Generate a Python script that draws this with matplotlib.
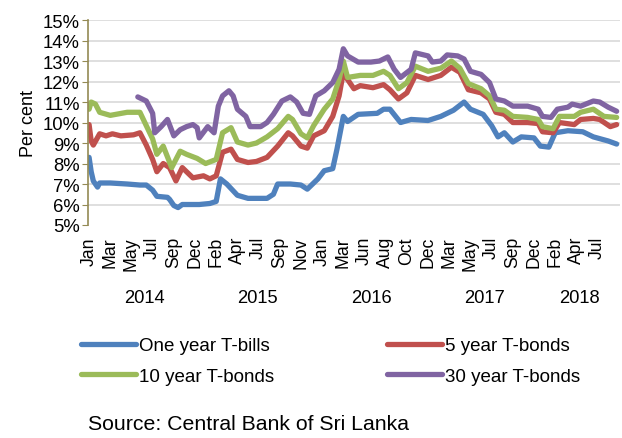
import matplotlib
matplotlib.use("Agg")
import matplotlib.pyplot as plt
import matplotlib.transforms as mtransforms

plt.rcParams['font.family'] = ['Liberation Sans', 'DejaVu Sans']

# weekly auction index (week 0 = first week of Jan 2014) and yields in per cent
bill_weeks = [0, 1, 2, 4, 5, 10, 18, 24, 27, 30, 32, 37, 38, 40, 42, 44, 52, 57, 60, 62, 65, 70,
              75, 84, 87, 89, 95, 100, 103, 108, 111, 115, 117, 120, 122, 127, 136, 139, 142, 147,
              152, 160, 166, 172, 177, 180, 186, 190, 193, 196, 200, 204, 210, 213, 217, 220, 226,
              233, 238, 245, 249]
bill_rates = [8.3, 7.6, 7.15, 6.85, 7.05, 7.05, 7.0, 6.95, 6.95, 6.7, 6.4, 6.35, 6.25, 5.95, 5.85,
              6.0, 6.0, 6.05, 6.15, 7.25, 7.0, 6.45, 6.3, 6.3, 6.5, 7.0, 7.0, 6.95, 6.75, 7.25, 7.65,
              7.75, 8.7, 10.3, 10.05, 10.4, 10.45, 10.65, 10.65, 10.0, 10.15, 10.1, 10.3, 10.6, 11.0,
              10.65, 10.4, 9.85, 9.3, 9.5, 9.05, 9.3, 9.25, 8.85, 8.8, 9.5, 9.6, 9.55, 9.3, 9.1, 8.95]

bond5_weeks = [0, 1, 2, 5, 8, 11, 15, 21, 24, 27, 30, 32, 35, 38, 41, 44, 46, 49, 54, 57, 60, 63,
               67, 70, 75, 79, 84, 89, 94, 96, 100, 103, 106, 111, 115, 118, 120, 122, 125, 128,
               134, 139, 142, 146, 150, 154, 160, 166, 171, 175, 179, 185, 189, 192, 196, 200, 207,
               212, 214, 219, 222, 229, 232, 238, 241, 246, 249]
bond5_rates = [9.9, 9.1, 8.9, 9.45, 9.35, 9.45, 9.35, 9.4, 9.5, 8.9, 8.2, 7.6, 8.0, 7.8, 7.15, 7.8,
               7.6, 7.3, 7.4, 7.25, 7.4, 8.55, 8.7, 8.2, 8.05, 8.1, 8.3, 8.85, 9.5, 9.35, 8.85, 8.75,
               9.35, 9.6, 10.3, 11.3, 12.45, 12.1, 11.65, 11.8, 11.7, 11.85, 11.6, 11.15, 11.45,
               12.3, 12.1, 12.3, 12.7, 12.45, 11.6, 11.45, 11.15, 10.5, 10.4, 10.0, 10.0, 9.95,
               9.55, 9.5, 10.0, 9.9, 10.15, 10.2, 10.15, 9.8, 9.9]

bond10_weeks = [0, 1, 3, 5, 10, 18, 24, 27, 30, 32, 35, 39, 43, 46, 51, 55, 60, 63, 67, 70, 75,
                79, 84, 89, 94, 96, 100, 103, 106, 111, 115, 118, 120, 122, 128, 134, 139, 142,
                146, 150, 154, 160, 166, 171, 175, 179, 185, 189, 192, 196, 200, 207, 212, 214,
                219, 222, 229, 232, 238, 243, 249]
bond10_rates = [10.65, 11.0, 10.9, 10.5, 10.35, 10.5, 10.5, 9.85, 9.2, 8.45, 8.85, 7.8, 8.6, 8.45,
                8.25, 8.0, 8.2, 9.5, 9.75, 9.05, 8.9, 9.0, 9.3, 9.7, 10.3, 10.15, 9.45, 9.25, 9.85,
                10.65, 11.15, 12.1, 13.0, 12.2, 12.3, 12.3, 12.5, 12.3, 11.65, 11.95, 12.75, 12.5,
                12.65, 13.0, 12.65, 11.9, 11.65, 11.3, 10.65, 10.6, 10.3, 10.25, 10.15, 9.8, 9.7,
                10.3, 10.3, 10.5, 10.65, 10.3, 10.25]

bond30_weeks = [23, 27, 30, 31, 34, 37, 40, 43, 46, 49, 51, 52, 56, 59, 61, 63, 66, 68, 70, 74,
                76, 81, 84, 87, 91, 95, 98, 101, 104, 107, 111, 115, 118, 120, 122, 127, 133, 137,
                141, 144, 147, 152, 154, 160, 162, 166, 169, 174, 177, 180, 185, 189, 192, 196,
                200, 207, 212, 214, 218, 221, 226, 228, 232, 238, 241, 245, 249]
bond30_rates = [11.25, 11.05, 10.45, 9.5, 9.8, 10.15, 9.35, 9.65, 9.8, 9.9, 9.75, 9.25, 9.8, 9.5,
                10.8, 11.3, 11.55, 11.3, 10.65, 10.3, 9.8, 9.8, 10.0, 10.4, 11.05, 11.25, 11.0,
                10.45, 10.4, 11.3, 11.55, 11.95, 12.6, 13.6, 13.25, 12.95, 12.95, 13.0, 13.2, 12.6,
                12.2, 12.6, 13.4, 13.25, 12.95, 13.0, 13.3, 13.25, 13.1, 12.5, 12.35, 11.95, 11.15,
                11.05, 10.8, 10.8, 10.65, 10.3, 10.25, 10.65, 10.75, 10.9, 10.8, 11.05, 11.0,
                10.75, 10.55]

month_labels = ['Jan', 'Mar', 'May', 'Jul', 'Sep', 'Dec', 'Feb', 'Apr', 'Jul', 'Sep', 'Nov',
                'Jan', 'Mar', 'Jun', 'Aug', 'Oct', 'Dec', 'Mar', 'May', 'Jul', 'Sep', 'Dec',
                'Feb', 'Apr', 'Jul']
label_step = 10  # one month label every 10 weeks
years = ['2014', '2015', '2016', '2017', '2018']
year_starts = [0, 52, 107, 160, 213, 250]

# legend goes row by row: blue, red / green, purple
series = [
    (bill_weeks, bill_rates, 'One year T-bills', '#4F81BD'),
    (bond10_weeks, bond10_rates, '10 year T-bonds', '#9BBB59'),
    (bond5_weeks, bond5_rates, '5 year T-bonds', '#C0504D'),
    (bond30_weeks, bond30_rates, '30 year T-bonds', '#8064A2'),
]
draw_order = [0, 2, 1, 3]

fig = plt.figure(figsize=(6.22, 4.39), dpi=100)
ax = fig.add_axes([0.1415, 0.4852, 0.855, 0.4668])

lines = {}
for i in draw_order:
    weeks, rates, name, color = series[i]
    lines[i], = ax.plot(weeks, rates, color=color, linewidth=3.8, label=name,
                        solid_capstyle='round')

ax.set_xlim(-0.5, 250.5)
ax.set_ylim(5, 15)
ax.set_yticks(range(5, 16))
ax.set_yticklabels([f'{v}%' for v in range(5, 16)], fontsize=13.3)
ax.set_ylabel('Per cent', fontsize=13, labelpad=4)

ax.set_xticks([i * label_step for i in range(len(month_labels))])
ax.set_xticklabels(month_labels, rotation=90, fontsize=12.7)
ax.tick_params(axis='x', length=0, pad=8)
ax.tick_params(axis='y', length=4, color='#948A54', pad=2)

ax.grid(axis='y', color='#D9D9D9', linewidth=1.2)
ax.set_axisbelow(True)
ax.yaxis.get_gridlines()[0].set_visible(False)
for side in ['top', 'right', 'bottom']:
    ax.spines[side].set_visible(False)
ax.spines['left'].set_color('#948A54')
ax.spines['left'].set_linewidth(1.2)

# year labels centred under each year's span of weeks
trans = mtransforms.blended_transform_factory(ax.transData, fig.transFigure)
for i, yr in enumerate(years):
    mid = (year_starts[i] + year_starts[i + 1]) / 2
    ax.text(mid, 0.321, yr, transform=trans, ha='center', va='center', fontsize=13.2)

fig.legend([lines[i] for i in range(4)], [series[i][2] for i in range(4)],
           loc='center left', bbox_to_anchor=(0.1305, 0.1754), ncol=2, frameon=False,
           fontsize=13.5, handlelength=2.95, handletextpad=0.16, columnspacing=6.0,
           labelspacing=0.7, borderpad=0, borderaxespad=0)

fig.text(0.1415, 0.012, 'Source: Central Bank of Sri Lanka', fontsize=15.3,
         ha='left', va='bottom')

fig.savefig('out.png', dpi=100)
